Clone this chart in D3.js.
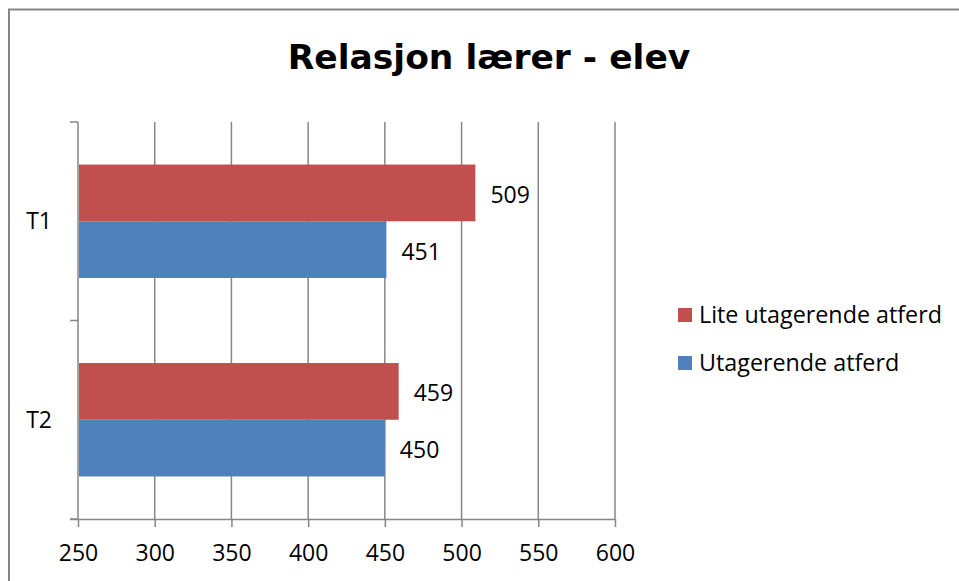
<!DOCTYPE html>
<html>
<head>
<meta charset="utf-8">
<script src="https://cdn.jsdelivr.net/npm/d3@7"></script>
<style>
    body { margin: 0; background: #fff; }
    svg { display: block; font-family: 'Open Sans', Lato, sans-serif; }
</style>
</head>
<body>
<script>
// Data
const categories = ['T1', 'T2'];
const seriesNames = ['Lite utagerende atferd', 'Utagerende atferd'];
const liteValues = [509, 459];
const utagerendeValues = [451, 450];
const xTicks = [250, 300, 350, 400, 450, 500, 550, 600];

const colors = { 'Lite utagerende atferd': '#C0504D', 'Utagerende atferd': '#4F81BD' };
const gridColor = '#868686';

const width = 959,
    height = 581;

let rows = categories.map((c, i) => ({
    cat: c,
    values: [
        { name: seriesNames[0], value: liteValues[i] },
        { name: seriesNames[1], value: utagerendeValues[i] }
    ]
}));

// Define svg
let svg = d3
    .select('body')
    .append('svg')
    .attr('width', width)
    .attr('height', height);

// Chart border
svg.append('rect')
    .attr('x', 9)
    .attr('y', 9.5)
    .attr('width', 1000)
    .attr('height', 700)
    .attr('fill', 'none')
    .attr('stroke', gridColor)
    .attr('stroke-width', 2);

// Scales
let x = d3.scaleLinear().domain([250, 600]).range([78, 615]);
let y0 = d3.scaleBand().domain(categories).range([122, 519]).padding(0);
let y1 = d3.scaleBand().domain(seriesNames).range([0, y0.bandwidth()]).paddingInner(0).paddingOuter(0.75);

// Title
svg.append('text')
    .attr('x', 489)
    .attr('y', 69)
    .attr('text-anchor', 'middle')
    .attr('font-family', "'DejaVu Sans', sans-serif")
    .attr('font-size', 34.5)
    .attr('font-weight', 'bold')
    .text('Relasjon lærer - elev');

// Gridlines
svg.append('g')
    .selectAll('line')
    .data(xTicks.slice(1))
    .enter()
    .append('line')
    .attr('x1', d => x(d))
    .attr('x2', d => x(d))
    .attr('y1', y0.range()[0])
    .attr('y2', y0.range()[1])
    .attr('stroke', gridColor)
    .attr('stroke-width', 1.5);

// Bars
let groups = svg.selectAll('.cat').data(rows).enter().append('g')
    .attr('class', 'cat')
    .attr('transform', d => `translate(0, ${y0(d.cat)})`);

groups.selectAll('rect')
    .data(d => d.values)
    .enter()
    .append('rect')
    .attr('x', x(250) + 1)
    .attr('y', d => y1(d.name))
    .attr('width', d => x(d.value) - x(250) - 1)
    .attr('height', y1.bandwidth())
    .attr('fill', d => colors[d.name]);

// Data labels
groups.selectAll('.lbl')
    .data(d => d.values)
    .enter()
    .append('text')
    .attr('class', 'lbl')
    .attr('x', d => x(d.value) + 15)
    .attr('y', d => y1(d.name) + y1.bandwidth() / 2 + 10)
    .attr('font-size', 23)
    .text(d => d.value);

// Set x-axis
let xAxis = svg.append('g')
    .attr('transform', `translate(0, ${y0.range()[1]})`)
    .call(d3.axisBottom(x).tickValues(xTicks).tickSize(8).tickSizeOuter(0));

xAxis.select('.domain').attr('stroke', gridColor).attr('stroke-width', 1.5).attr('d', `M70,0.5H${x(600)}`);
xAxis.selectAll('.tick line').attr('stroke', gridColor).attr('stroke-width', 1.5);
xAxis.selectAll('.tick text')
    .attr('y', 42)
    .attr('dy', null)
    .attr('font-size', 23)
    .attr('fill', '#000');
xAxis.attr('font-family', null).attr('font-size', null);

// Set y-axis
let yAxis = svg.append('g').attr('transform', `translate(${x(250)}, 0)`);

yAxis.append('line')
    .attr('y1', y0.range()[0])
    .attr('y2', y0.range()[1])
    .attr('stroke', gridColor)
    .attr('stroke-width', 1.5);

yAxis.selectAll('.ytick')
    .data(categories.map(c => y0(c)).concat([y0.range()[1]]))
    .enter()
    .append('line')
    .attr('x1', -8)
    .attr('x2', 0)
    .attr('y1', d => d)
    .attr('y2', d => d)
    .attr('stroke', gridColor)
    .attr('stroke-width', 1.5);

yAxis.selectAll('.ylabel')
    .data(categories)
    .enter()
    .append('text')
    .attr('x', -26)
    .attr('y', d => y0(d) + y0.bandwidth() / 2 + 8)
    .attr('text-anchor', 'end')
    .attr('font-size', 23)
    .text(d => d);

// Legend
let legend = svg.selectAll('.legend').data(seriesNames).enter().append('g')
    .attr('transform', (d, i) => `translate(678, ${308 + i * 48})`);

legend.append('rect')
    .attr('width', 14)
    .attr('height', 14)
    .attr('fill', d => colors[d]);

legend.append('text')
    .attr('x', 21)
    .attr('y', 15)
    .attr('font-size', 23.3)
    .text(d => d);
</script>
</body>
</html>
